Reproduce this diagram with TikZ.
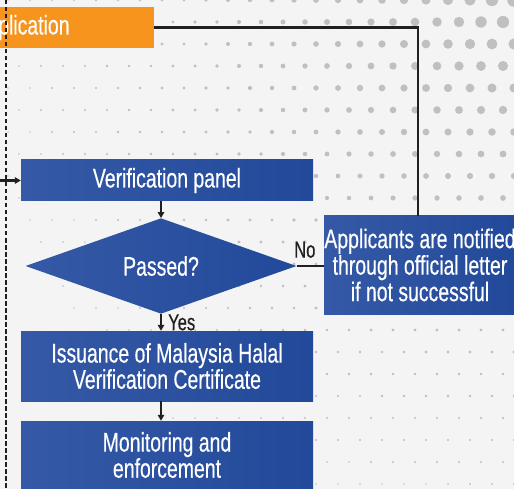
\documentclass[tikz,border=0pt]{standalone}
\usepackage{fontspec}
\setmainfont{Liberation Sans}[FakeStretch=0.72,FakeBold=0.4]
\usetikzlibrary{arrows.meta,shapes.geometric}
\definecolor{bg}{HTML}{F4F4F5}
\definecolor{dotc}{HTML}{C0C0C2}
\definecolor{orng}{HTML}{F7941D}
\definecolor{blueL}{HTML}{3559A6}
\definecolor{blueR}{HTML}{22499A}
\definecolor{ink}{HTML}{231F20}
\begin{document}
\begin{tikzpicture}[x=1pt,y=-1pt,
  box/.style={rectangle, left color=blueL, right color=blueR, text=white,
    font=\fontsize{27}{25}\selectfont, align=center, minimum width=292, inner sep=0},
  decision/.style={diamond, left color=blueL, right color=blueR, text=white,
    font=\fontsize{27}{25}\selectfont, minimum width=271, minimum height=85, inner sep=0},
  appbox/.style={rectangle, fill=orng, text=white, font=\fontsize{27}{25}\selectfont,
    minimum width=264, minimum height=41, inner sep=0},
  link/.style={draw=ink, line width=2.4},
  arrowlink/.style={link, -{Triangle[length=6,width=6.5]}},
  dashlink/.style={draw=ink, line width=2.2, dash pattern=on 4.5 off 2.5},
  lbl/.style={font=\fontsize{23}{23}\selectfont, text=ink, inner sep=2}]
\fill[bg] (0,0) rectangle (514,489);
\useasboundingbox (0,0) rectangle (514,489);
% halftone dots
\foreach \i in {0,...,24}{
  \foreach \j in {0,...,22}{
    \pgfmathsetmacro{\px}{514-\i*22+mod(\j,2)*11}
    \pgfmathsetmacro{\py}{\j*22}
    \pgfmathsetmacro{\dd}{100*sqrt(((514-\px)/100)^2+(\py/100)^2)}
    \pgfmathsetmacro{\rr}{5.5*exp(-\dd/190)+1.3*exp(-\dd/600)}
    \ifdim\rr pt>0.85pt \fill[dotc] (\px,\py) circle[radius=\rr]; \fi
  }
}
% nodes
\node[appbox] (app) at (22,27.5) {Application};
\node[box, minimum height=41] (panel) at (167,180.5) {Verification panel};
\node[decision] (dia) at (161,266) {Passed?};
\node[box, minimum width=192, minimum height=98, font=\fontsize{27}{26.5}\selectfont] (notify) at (420,265) {Applicants are notified\\through official letter\\if not successful};
\node[box, minimum height=70] (issue) at (167,366) {Issuance of Malaysia Halal\\Verification Certificate};
\node[box, minimum height=68] (monitor) at (167,455) {Monitoring and\\enforcement};
% coordinates
\coordinate (corner) at (418,28);
\coordinate (dtop) at (6,0);
\coordinate (dbot) at (6,489);
\coordinate (fb) at (0,181);
% connectors
\draw[dashlink] (dtop) -- (dbot);
\draw[link] (notify.north -| corner) |- (app.east);
\draw[arrowlink] (panel.west -| fb) -- (panel.west);
\draw[arrowlink] (panel.south -| dia.north) -- (dia.north);
\draw[link] (dia.east) -- (notify.west |- dia.east) node[lbl, pos=0.3, above=5] {No};
\draw[arrowlink] (dia.south) -- (dia.south |- issue.north) node[lbl, midway, right=4] {Yes};
\draw[arrowlink] (issue.south -| dia.south) -- (dia.south |- monitor.north);
\end{tikzpicture}
\end{document}
